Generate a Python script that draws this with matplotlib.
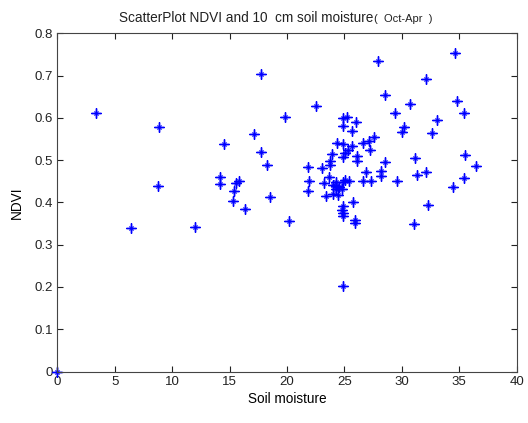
import matplotlib
matplotlib.use("Agg")
import matplotlib.pyplot as plt

soil_moisture = [
    0.0, 3.4, 8.85, 8.75, 6.4, 12.0, 14.5, 14.17, 14.17, 15.57, 15.83, 15.39, 15.28,
    16.35, 17.1, 17.7, 17.7, 18.27, 18.53, 19.86, 20.2, 21.86, 21.95, 21.8, 22.53,
    23.08, 23.7, 23.2, 23.75, 23.75, 23.9, 24.33, 24.86, 24.9, 24.86, 25.2, 26.0,
    25.7, 25.62, 26.65, 27.18, 27.6, 27.27, 25.06, 25.35, 24.9, 26.08, 26.08,
    28.57, 26.9, 28.2, 28.2, 29.56, 25.06, 25.4, 26.6, 27.3, 24.0, 24.3, 24.56,
    24.76, 24.28, 24.3, 24.9, 24.0, 24.48, 23.38, 25.73, 24.86, 24.83, 24.86,
    24.86, 25.93, 25.93, 24.86, 27.96, 34.6, 32.14, 28.5, 30.7, 34.8, 29.4, 35.45,
    33.05, 30.2, 30.05, 32.64, 31.18, 35.5, 36.47, 31.36, 32.1, 35.37, 34.44,
    32.3, 31.07,
]
ndvi = [
    0.0, 0.611, 0.578, 0.438, 0.339, 0.343, 0.538, 0.461, 0.443, 0.447, 0.451, 0.428, 0.403,
    0.384, 0.562, 0.703, 0.520, 0.488, 0.412, 0.601, 0.355, 0.484, 0.450, 0.426, 0.629,
    0.481, 0.460, 0.445, 0.498, 0.488, 0.514, 0.540, 0.537, 0.581, 0.600, 0.601, 0.590,
    0.569, 0.534, 0.541, 0.546, 0.554, 0.525, 0.518, 0.524, 0.508, 0.510, 0.497,
    0.495, 0.472, 0.475, 0.463, 0.451, 0.453, 0.451, 0.451, 0.451, 0.441, 0.439, 0.436,
    0.432, 0.432, 0.449, 0.449, 0.420, 0.417, 0.415, 0.400, 0.391, 0.382, 0.375,
    0.369, 0.359, 0.351, 0.203, 0.734, 0.754, 0.693, 0.653, 0.633, 0.640, 0.612, 0.611,
    0.595, 0.578, 0.567, 0.564, 0.504, 0.511, 0.486, 0.466, 0.473, 0.457, 0.436,
    0.394, 0.349,
]
x_ticks = [0, 5, 10, 15, 20, 25, 30, 35, 40]
y_ticks = [0, 0.1, 0.2, 0.3, 0.4, 0.5, 0.6, 0.7, 0.8]
y_tick_labels = ["0", "0.1", "0.2", "0.3", "0.4", "0.5", "0.6", "0.7", "0.8"]

plt.rcParams['font.family'] = ['Liberation Sans', 'DejaVu Sans']

fig = plt.figure(figsize=(5.28, 4.23), dpi=100)
ax = fig.add_axes([0.1085, 0.1217, 0.8701, 0.7996])
ax.plot(soil_moisture, ndvi, linestyle='none', marker=(4, 2, 0), markersize=7,
        markeredgewidth=1.0, color='#0000ff', clip_on=False)
ax.plot(soil_moisture, ndvi, linestyle='none', marker=(4, 2, 45), markersize=4.5,
        markeredgewidth=0.8, color='#0000ff', alpha=0.6, clip_on=False)
ax.set_xlim(0, 40)
ax.set_ylim(0, 0.8)
ax.set_xticks(x_ticks)
ax.set_yticks(y_ticks)
ax.set_yticklabels(y_tick_labels)
ax.tick_params(direction='in', top=True, right=True, length=4, width=0.8,
               labelsize=9.5, colors='#222222', pad=3)
for s in ax.spines.values():
    s.set_color('#444444')
    s.set_linewidth(0.8)
ax.set_xlabel('Soil moisture', fontsize=9.8, labelpad=3)
ax.set_ylabel('NDVI', fontsize=9.8, labelpad=8)

fig.text(0.707, 0.957, 'ScatterPlot NDVI and 10  cm soil moisture', ha='right',
         va='center', fontsize=9.8, color='#222222')
fig.text(0.709, 0.955, '(  Oct-Apr  )', ha='left', va='center', fontsize=8,
         color='#222222')

fig.savefig('out.png', dpi=100)
